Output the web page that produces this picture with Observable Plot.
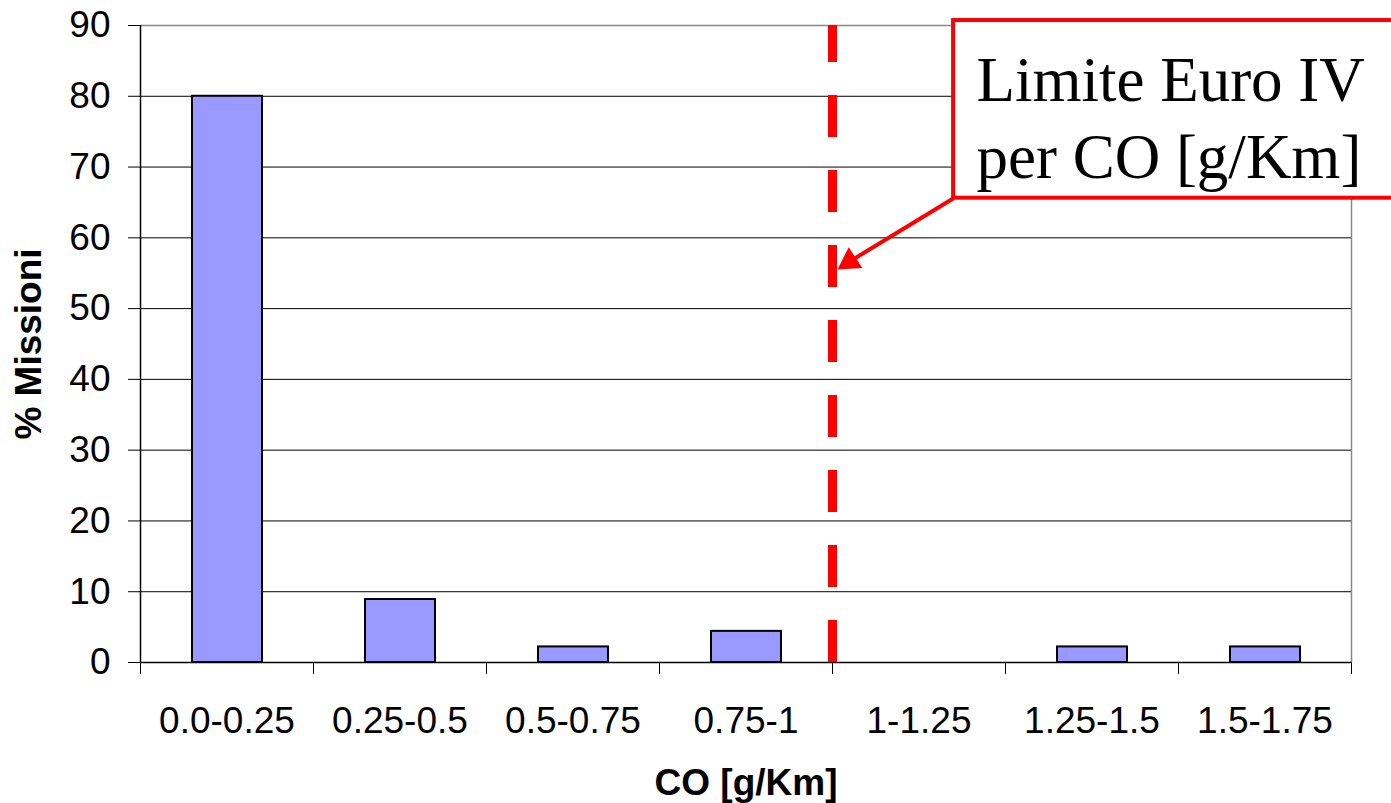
<!DOCTYPE html>
<html><head><meta charset="utf-8">
<script src="https://cdn.jsdelivr.net/npm/d3@7"></script>
<script src="https://cdn.jsdelivr.net/npm/@observablehq/plot@0.6"></script>
<style>html,body{margin:0;padding:0;background:#fff;overflow:hidden;} #chart svg{display:block}</style>
</head><body><div id="chart"></div>
<script>
const categories = ["0.0-0.25","0.25-0.5","0.5-0.75","0.75-1","1-1.25","1.25-1.5","1.5-1.75"];
const binStart = [0, 0.25, 0.5, 0.75, 1.0, 1.25, 1.5];
const binEnd = [0.25, 0.5, 0.75, 1.0, 1.25, 1.5, 1.75];
const percentMissions = [80, 8.9, 2.2, 4.4, 0, 2.2, 2.2];
const yTicks = [0, 10, 20, 30, 40, 50, 60, 70, 80, 90];
const xEdges = [0, 0.25, 0.5, 0.75, 1.0, 1.25, 1.5, 1.75];
const euroIVLimit = 1.0;
const annotationLines = ["Limite Euro IV", "per CO [g/Km]"];
const xTitle = "CO [g/Km]";
const yTitle = "% Missioni";
// annotation box / arrow anchors, in data units
const boxLeft = 1.175, boxRight = 1.9, boxTop = 90.7, boxBottom = 65.6;
const arrowHeadX = 1.0246, arrowHeadY = 56.64;
const textX = 1.208, textY = 77.4;

const data = categories.map((c, i) => ({cat: c, x1: binStart[i], x2: binEnd[i], v: percentMissions[i]}));
const bars = data.filter(d => d.v > 0);
const font = "Liberation Sans, Arial, sans-serif";

const chart = Plot.plot({
  width: 1391, height: 803,
  marginLeft: 140, marginRight: 40, marginTop: 25, marginBottom: 141,
  style: {fontFamily: font, background: "#fff", color: "#000"},
  x: {domain: [0, 1.75], axis: null},
  y: {domain: [0, 90], axis: null},
  marks: [
    Plot.ruleY(yTicks.filter(t => t > 0 && t < 90), {stroke: "#000", strokeWidth: 1}),
    Plot.ruleY([90], {stroke: "#888", strokeWidth: 1.5}),
    Plot.ruleX([1.75], {stroke: "#888", strokeWidth: 1.5}),
    Plot.rectY(bars, {x1: "x1", x2: "x2", y: "v", insetLeft: 52, insetRight: 51, fill: "#9999ff", stroke: "#000", strokeWidth: 2}),
    Plot.ruleY([0], {stroke: "#000", strokeWidth: 1.5}),
    Plot.ruleX([0], {stroke: "#000", strokeWidth: 1.5}),
    Plot.axisY({ticks: yTicks, tickSize: 12, tickPadding: 18, fontSize: 37, label: null, tickFormat: d => String(d)}),
    Plot.axisX({ticks: xEdges, tickSize: 12, tickFormat: () => "", label: null}),
    Plot.text(data, {x: d => (d.x1 + d.x2) / 2, y: 0, text: "cat", dy: 44, lineAnchor: "top", fontSize: 37}),
    Plot.text([xTitle], {frameAnchor: "bottom", dy: 121, lineAnchor: "middle", textAnchor: "middle", fontSize: 37, fontWeight: "bold"}),
    Plot.text([yTitle], {frameAnchor: "left", dx: -111, rotate: -90, textAnchor: "middle", lineAnchor: "middle", fontSize: 37, fontWeight: "bold"}),
    Plot.ruleX([euroIVLimit], {y1: 0, y2: 90, stroke: "#ff0000", strokeWidth: 9, strokeDasharray: "42,33"}),
    Plot.rect([0], {x1: boxLeft, x2: boxRight, y1: boxBottom, y2: boxTop, fill: "#fff", stroke: "#ff0000", strokeWidth: 4}),
    Plot.text([annotationLines.join("\n")], {x: textX, y: textY, textAnchor: "start", fontFamily: "Liberation Serif, 'Times New Roman', serif", fontSize: 63, lineHeight: 1.22, fill: "#000"}),
    Plot.link([0], {x1: boxLeft, y1: boxBottom, x2: arrowHeadX, y2: arrowHeadY, stroke: "#ff0000", strokeWidth: 4}),
    Plot.dot([0], {x: arrowHeadX, y: arrowHeadY, symbol: "triangle2", r: 11.9, rotate: 236.6, fill: "#ff0000", stroke: "none"})
  ]
});
document.getElementById("chart").appendChild(chart);
</script>
</body></html>
